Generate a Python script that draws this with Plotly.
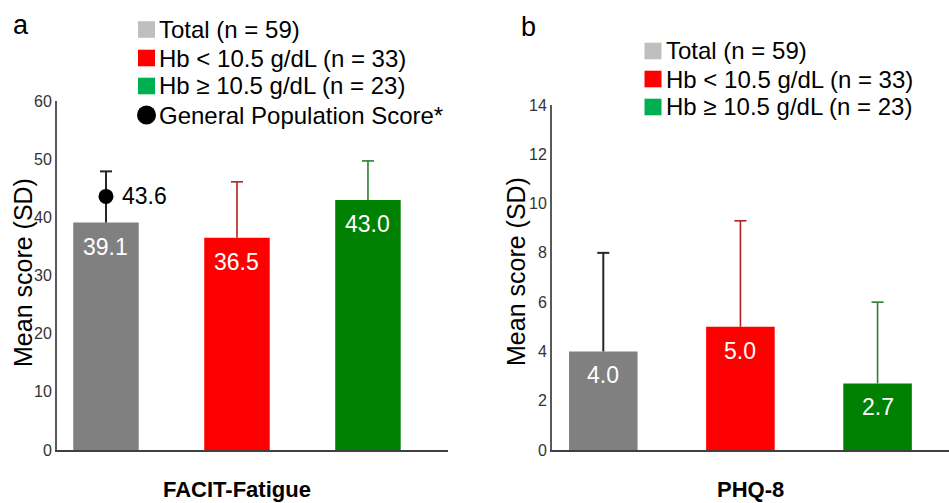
import plotly.graph_objects as go

# ---------------- data ----------------
groups = ["Total (n = 59)", "Hb < 10.5 g/dL (n = 33)", "Hb \u2265 10.5 g/dL (n = 23)"]
facit_mean = [39.1, 36.5, 43.0]
facit_sd = [8.8, 9.6, 6.7]
phq_mean = [4.0, 5.0, 2.7]
phq_sd = [4.0, 4.3, 3.3]
general_pop_score = 43.6
facit_ticks = [0, 10, 20, 30, 40, 50, 60]
phq_ticks = [0, 2, 4, 6, 8, 10, 12, 14]

bar_colors = ["#808080", "#FF0000", "#008000"]
err_colors = ["#262626", "#B22222", "#2E7D32"]
legend_colors = ["#BFBFBF", "#FF0000", "#00B050"]

W, H = 949, 503
FONT = "Liberation Sans, Arial, Helvetica, sans-serif"


def px(x):
    return x / W


def py(y):
    return 1 - y / H


fig = go.Figure()

panels = [
    (facit_mean, facit_sd, "x", "y", 0.046),
    (phq_mean, phq_sd, "x2", "y2", 0.044),
]
for means, sds, xa, ya, cap in panels:
    for i, (m, s) in enumerate(zip(means, sds)):
        fig.add_trace(
            go.Bar(
                x=[i], y=[m], width=0.5,
                marker=dict(color=bar_colors[i], line=dict(width=0)),
                showlegend=False, xaxis=xa, yaxis=ya, hoverinfo="skip",
            )
        )
        # upper-only SD error bar
        fig.add_trace(
            go.Scatter(
                x=[i, i, None, i - cap, i + cap],
                y=[m, m + s, None, m + s, m + s],
                mode="lines",
                line=dict(color=err_colors[i], width=2 if i == 0 else 1.6),
                showlegend=False, xaxis=xa, yaxis=ya, hoverinfo="skip",
            )
        )
        fig.add_annotation(
            x=i, y=m, xref=xa, yref=ya, text=f"{m:.1f}", showarrow=False,
            yanchor="top", yshift=-9,
            font=dict(family=FONT, size=23, color="white"),
        )

# general population score dot
fig.add_trace(
    go.Scatter(
        x=[0], y=[general_pop_score], mode="markers",
        marker=dict(color="black", size=15),
        showlegend=False, xaxis="x", yaxis="y", hoverinfo="skip",
    )
)
fig.add_annotation(
    x=0, y=general_pop_score, xref="x", yref="y", text=f"{general_pop_score:.1f}",
    showarrow=False, xanchor="left", xshift=14,
    font=dict(family=FONT, size=23, color="black"),
)

axis_common = dict(
    showgrid=False, zeroline=False, showline=True, linecolor="#595959",
    linewidth=2, ticks="", tickfont=dict(family=FONT, size=16, color="#333333"),
    automargin=False,
)
xaxis_common = dict(
    showticklabels=False, showgrid=False, zeroline=False, showline=True,
    linecolor="#404040", linewidth=1.5, ticks="", automargin=False,
)

fig.update_layout(
    width=W, height=H,
    margin=dict(l=0, r=0, t=0, b=0),
    paper_bgcolor="white", plot_bgcolor="white",
    barmode="overlay",
    xaxis=dict(domain=[px(57), px(448)], range=[-0.374, 2.611], anchor="y", **xaxis_common),
    yaxis=dict(domain=[py(450), py(101)], range=[0, 60], tickvals=facit_ticks,
               anchor="x", **axis_common),
    xaxis2=dict(domain=[px(552), 1.0], range=[-0.374, 2.521], anchor="y2", **xaxis_common),
    yaxis2=dict(domain=[py(450), py(105)], range=[0, 14], tickvals=phq_ticks,
                anchor="x2", **axis_common),
    showlegend=False,
)

# y axis titles (overlapping tick labels like the original)
for xc, yc in [(23, 273), (516, 272)]:
    fig.add_annotation(
        x=px(xc), y=py(yc), xref="paper", yref="paper", text="Mean score (SD)",
        showarrow=False, textangle=-90, xanchor="center", yanchor="middle",
        font=dict(family=FONT, size=25, color="black"),
    )

# panel letters
fig.add_annotation(x=px(11), y=py(25), xref="paper", yref="paper", text="a",
                   showarrow=False, xanchor="left", yanchor="middle",
                   font=dict(family=FONT, size=27, color="black"))
fig.add_annotation(x=px(519), y=py(27), xref="paper", yref="paper", text="b",
                   showarrow=False, xanchor="left", yanchor="middle",
                   font=dict(family=FONT, size=27, color="black"))

# x titles
fig.add_annotation(x=1, y=py(489), xref="x", yref="paper", text="<b>FACIT-Fatigue</b>",
                   showarrow=False, xanchor="center", yanchor="middle",
                   font=dict(family=FONT, size=22, color="black"))
fig.add_annotation(x=1.07, y=py(489), xref="x2", yref="paper", text="<b>PHQ-8</b>",
                   showarrow=False, xanchor="center", yanchor="middle",
                   font=dict(family=FONT, size=22, color="black"))

# legends
def legend(x0, rows_y, with_dot=None):
    for g, c, yc in zip(groups, legend_colors, rows_y):
        fig.add_shape(type="rect", xref="paper", yref="paper",
                      x0=px(x0), x1=px(x0 + 17), y0=py(yc + 8.3), y1=py(yc - 8.3),
                      fillcolor=c, line=dict(width=0))
        fig.add_annotation(x=px(x0 + 19), y=py(yc), xref="paper", yref="paper", text=g,
                           showarrow=False, xanchor="left", yanchor="middle",
                           font=dict(family=FONT, size=24, color="black"))
    if with_dot is not None:
        yc = with_dot
        fig.add_shape(type="circle", xref="paper", yref="paper",
                      x0=px(x0 - 1), x1=px(x0 + 18), y0=py(yc + 9.5), y1=py(yc - 9.5),
                      fillcolor="black", line=dict(width=0))
        fig.add_annotation(x=px(x0 + 19), y=py(yc), xref="paper", yref="paper",
                           text="General Population Score*",
                           showarrow=False, xanchor="left", yanchor="middle",
                           font=dict(family=FONT, size=24, color="black"))

legend(138, [29.5, 58, 86], with_dot=115)
legend(644.5, [51, 79, 107])

fig.write_html(
    "out.html",
    config={"displayModeBar": False},
    post_script="document.body.style.margin='0px';document.body.style.padding='0px';",
)
